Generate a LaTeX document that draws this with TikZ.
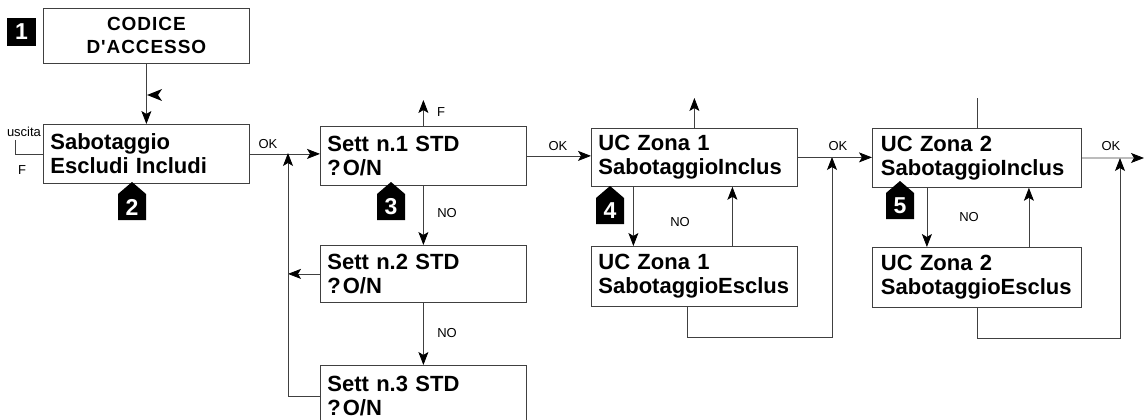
\documentclass[tikz,border=0pt]{standalone}
\usepackage{fontspec}
\setmainfont{Liberation Sans}
\newfontfamily\titlefont[LetterSpace=5]{Liberation Sans}
\usetikzlibrary{arrows.meta,positioning}

\begin{document}
\begin{tikzpicture}[
	%	style def
    x=1pt, y=-1pt,
    conn/.style={line width=0.8pt, draw=black!75},
    arr/.style={conn, -{Stealth[length=13pt,width=10pt,inset=3pt,black]}},
    screen/.style={draw=black!75, line width=0.8pt, anchor=north west,
        minimum width=206pt, text width=192pt, inner xsep=7pt, align=left,
        font=\fontsize{22}{24}\selectfont\bfseries},
    lbl/.style={inner sep=0pt, font=\fontsize{13}{13}\selectfont},
    badgenum/.style={text=white, inner sep=0pt, font=\fontsize{23}{23}\selectfont\bfseries},
    badge/.pic={
        \fill[black] (-14,38) -- (-14,12) -- (0,0) -- (14,12) -- (14,38) -- cycle;
        \node[badgenum] at (0,25) {#1};
    }
    ]
    \useasboundingbox (0,0) rectangle (1144,420);

    % screens
    \node[screen, minimum height=55pt, text width=188pt, align=center,
          font=\fontsize{19}{23}\selectfont\titlefont\bfseries]
          (acc) at (43,8) {CODICE\\D'ACCESSO};
    \node[screen, minimum height=59pt] (sab) at (43,124) {Sabotaggio\\Escludi Includi};
    \node[screen, minimum height=59pt] (s1) at (320,126) {Sett n.1 STD\\?\kern2pt O/N};
    \node[screen, minimum height=57pt] (s2) at (320,245) {Sett n.2 STD\\?\kern2pt O/N};
    \node[screen, minimum height=62pt] (s3) at (320,365) {Sett n.3 STD\\?\kern2pt O/N};
    \node[screen, minimum height=58pt] (z1i) at (591,128) {UC Zona 1\\SabotaggioInclus};
    \node[screen, minimum height=60pt] (z1e) at (591,246) {UC Zona 1\\SabotaggioEsclus};
    \node[screen, minimum height=59pt, minimum width=209pt] (z2i) at (872,128) {UC Zona 2\\SabotaggioInclus};
    \node[screen, minimum height=60pt, minimum width=209pt] (z2e) at (872,247) {UC Zona 2\\SabotaggioEsclus};

    % badges
    \fill[black] (7,18) rectangle (36,46);
    \node[badgenum] (b1) at (21.5,32) {1};
    \pic at (132,182) {badge=2};
    \pic at (391,182) {badge=3};
    \pic at (610,186) {badge=4};
    \pic at (900,181) {badge=5};

    % access code -> sabotaggio
    \draw[arr] (acc.south) -- (sab.north);
    \fill[black] (147,95) -- (162,89) -- (158,95) -- (162,101) -- cycle;

    % exit
    \coordinate (ex) at (15,140);
    \draw[conn] (sab.west) -| (ex);
    \node[lbl] (uscita) at (24,132) {uscita};
    \node[lbl] (fx) at (22,170) {F};

    % sectors
    \draw[arr] (sab.east) -- (sab.east -| s1.west);
    \node[lbl] (ok1) at (268,144) {OK};
    \coordinate (s1up) at (s1.north |- 0,100);
    \draw[arr] (s1.north) -- (s1up);
    \node[lbl] (f1) at (441,112) {F};
    \draw[arr] (s1.south) -- (s2.north);
    \node[lbl] (no1) at (447,213) {NO};
    \draw[arr] (s2.south) -- (s3.north);
    \node[lbl] (no2) at (447,333) {NO};
    \coordinate (ret) at (288,153);
    \draw[arr] (s2.west) -- (s2.west -| ret);
    \draw[arr] (s3.west) -| (ret);

    % zone 1
    \draw[arr] (s1.east) -- (s1.east -| z1i.west);
    \node[lbl] (ok2) at (558,146) {OK};
    \coordinate (z1up) at (z1i.north |- 0,98);
    \draw[arr] (z1i.north) -- (z1up);
    \draw[arr] ([xshift=-61pt]z1i.south) -- ([xshift=-61pt]z1i.south |- z1e.north);
    \draw[arr] ([xshift=38pt]z1e.north) -- ([xshift=38pt]z1e.north |- z1i.south);
    \node[lbl] (no3) at (680,222) {NO};
    \coordinate (z1ok) at (832,157);
    \draw[arr] ([xshift=-7pt]z1e.south) -- ([xshift=-7pt]z1e.south |- 0,337) -| (z1ok);

    % zone 2
    \draw[arr] (z1i.east) -- (z1i.east -| z2i.west);
    \node[lbl] (ok3) at (838,146) {OK};
    \draw[conn] (z2i.north) -- (z2i.north |- 0,98);
    \draw[arr] ([xshift=-50pt]z2i.south) -- ([xshift=-50pt]z2i.south |- z2e.north);
    \draw[arr] ([xshift=52pt]z2e.north) -- ([xshift=52pt]z2e.north |- z2i.south);
    \node[lbl] (no4) at (969,217) {NO};
    \coordinate (z2ok) at (1120,158);
    \draw[arr] (z2e.south) -- (z2e.south |- 0,338) -| (z2ok);
    \coordinate (out) at (1144,158);
    \draw[arr] (z2i.east) -- (out);
    \node[lbl] (ok4) at (1111,146) {OK};

\end{tikzpicture}
\end{document}
